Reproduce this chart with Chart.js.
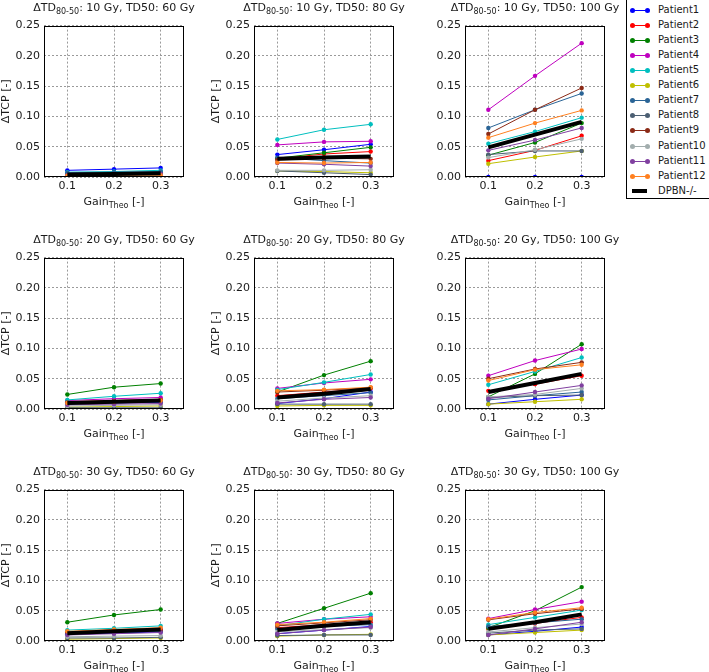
<!DOCTYPE html>
<html><head><meta charset="utf-8">
<script src="https://cdn.jsdelivr.net/npm/chart.js@4/dist/chart.umd.min.js"></script>
<style>
body{margin:0;background:#fff;width:709px;height:672px;position:relative;overflow:hidden;font-family:"DejaVu Sans",sans-serif;color:#1a1a1a}
canvas{position:absolute}
.t{position:absolute;font-size:11px;white-space:nowrap;transform:translate(-50%,-50%);line-height:13px}
.t sub{font-size:8px;vertical-align:-3px;line-height:0}
#leg{position:absolute;left:626px;top:-1px;width:90px;height:200px;border:1px solid #000;box-sizing:border-box;background:#fff}
.li{position:absolute;left:0;height:14px;width:86px}
.ln{position:absolute;left:5px;width:15px;top:7px;height:1px}
.dt{position:absolute;width:5px;height:5px;border-radius:50%;top:-2px}
.lt{position:absolute;left:31px;top:0;font-size:10px;line-height:14px;white-space:nowrap}
</style></head>
<body>
<div id="leg"></div>
<script>
// ---- data ----
const gains = [0.1, 0.2, 0.3];
const yTicks = [0, 0.05, 0.10, 0.15, 0.20, 0.25];
const names = ['Patient1','Patient2','Patient3','Patient4','Patient5','Patient6','Patient7','Patient8','Patient9','Patient10','Patient11','Patient12','DPBN-/-'];
const deltaTD = [10, 20, 30];
const td50 = [60, 80, 100];

// each row: one series (Patient1..Patient12, DPBN-/-), values at gains 0.1, 0.2, 0.3
const td10_60 = [[.011,.013,.015],[.003,.004,.005],[.005,.007,.008],[.004,.005,.006],[.008,.009,.011],[.001,.002,.002],[.007,.008,.009],[.001,.001,.002],[.002,.003,.004],[.002,.002,.003],[.003,.004,.005],[.002,.003,.003],[.004,.005,.006]];
const td10_80 = [[.037,.045,.054],[.030,.038,.042],[.031,.040,.049],[.053,.058,.059],[.062,.078,.087],[.010,.009,.007],[.032,.027,.023],[.010,.007,.004],[.028,.031,.030],[.011,.011,.012],[.023,.021,.018],[.024,.023,.024],[.030,.032,.034]];
const td10_100 = [[0,0,0],[.027,.044,.068],[.036,.057,.089],[.111,.167,.221],[.055,.075,.098],[.022,.033,.043],[.081,.111,.138],[.037,.043,.043],[.071,.111,.147],[.032,.045,.063],[.044,.061,.081],[.065,.089,.110],[.049,.070,.091]];
const td20_60 = [[.008,.010,.011],[.012,.014,.016],[.024,.036,.042],[.014,.017,.019],[.015,.021,.026],[.003,.004,.005],[.009,.010,.012],[.002,.002,.002],[.011,.013,.015],[.005,.006,.007],[.007,.008,.009],[.010,.012,.014],[.010,.012,.014]];
const td20_80 = [[.009,.017,.028],[.022,.028,.034],[.028,.056,.079],[.034,.043,.049],[.032,.044,.057],[.005,.006,.006],[.017,.022,.027],[.008,.008,.008],[.028,.031,.035],[.013,.018,.022],[.010,.016,.019],[.030,.032,.036],[.019,.025,.033]];
const td20_100 = [[.008,.016,.023],[.030,.041,.055],[.020,.058,.107],[.055,.080,.099],[.040,.062,.085],[.008,.012,.016],[.015,.022,.028],[.019,.022,.023],[.050,.066,.077],[.020,.024,.034],[.017,.028,.039],[.047,.065,.073],[.028,.043,.058]];
const td30_60 = [[.011,.013,.015],[.014,.017,.019],[.031,.043,.052],[.015,.018,.020],[.018,.021,.025],[.003,.004,.005],[.012,.014,.016],[.005,.005,.006],[.014,.016,.018],[.007,.008,.009],[.010,.012,.014],[.016,.019,.022],[.013,.016,.019]];
const td30_80 = [[.012,.018,.024],[.022,.027,.031],[.029,.054,.079],[.029,.036,.040],[.025,.036,.044],[.008,.010,.011],[.020,.024,.027],[.009,.010,.010],[.025,.030,.035],[.015,.019,.022],[.012,.018,.023],[.027,.031,.037],[.018,.025,.031]];
const td30_100 = [[.010,.016,.023],[.020,.029,.039],[.022,.050,.089],[.037,.052,.065],[.027,.039,.051],[.010,.014,.018],[.024,.030,.036],[.013,.018,.020],[.035,.045,.053],[.015,.022,.028],[.010,.020,.031],[.036,.047,.055],[.020,.031,.044]];

const panels = [[td10_60, td10_80, td10_100],[td20_60, td20_80, td20_100],[td30_60, td30_80, td30_100]];

// ---- styles ----
const colors = ['#0000ff','#ff0000','#008000','#bf00bf','#00bfbf','#bfbf00','#2a6496','#4c5f73','#8b2a16','#a2adad','#8040a0','#ff8020','#000000'];
const FONT = 'DejaVu Sans';
const plotLefts = [44, 254, 465];
const plotTops = [23, 255, 487];
const PW = 140, PH = 154, YW = 44, PADT = 8, PADR = 8, XH = 18;

const boxPlugin = {
  id: 'box',
  afterDatasetsDraw(chart) {
    const ctx = chart.ctx, a = chart.chartArea;
    ctx.save();
    ctx.strokeStyle = '#000'; ctx.lineWidth = 1;
    ctx.strokeRect(Math.round(a.left) + 0.5, Math.round(a.top) + 0.5, Math.round(a.right - a.left) - 1, Math.round(a.bottom - a.top) - 1);
    ctx.restore();
  }
};

function addText(html, x, y, extra) {
  const d = document.createElement('div');
  d.className = 't';
  d.innerHTML = html;
  d.style.left = x + 'px'; d.style.top = y + 'px';
  if (extra) Object.assign(d.style, extra);
  document.body.appendChild(d);
}

for (let r = 0; r < 3; r++) {
  for (let c = 0; c < 3; c++) {
    const cv = document.createElement('canvas');
    const W = YW + PW + PADR, H = PADT + PH + XH;
    cv.width = W; cv.height = H;
    cv.style.left = (plotLefts[c] - YW) + 'px';
    cv.style.top = (plotTops[r] - PADT) + 'px';
    cv.style.width = W + 'px'; cv.style.height = H + 'px';
    document.body.appendChild(cv);
    const vals = panels[r][c];
    const datasets = names.map((n, i) => ({
      label: n,
      data: gains.map((g, j) => ({ x: g, y: vals[i][j] })),
      borderColor: colors[i],
      backgroundColor: colors[i],
      borderWidth: i === 12 ? 4 : 1,
      pointRadius: i === 12 ? 0 : 2.2,
      pointBorderWidth: 0,
      pointHoverRadius: 0,
      tension: 0,
      order: -i
    }));
    new Chart(cv, {
      type: 'line',
      data: { datasets },
      plugins: [boxPlugin],
      options: {
        animation: false, responsive: false, devicePixelRatio: 1,
        layout: { padding: { top: PADT, right: PADR, left: 0, bottom: 0 } },
        plugins: { legend: { display: false }, tooltip: { enabled: false } },
        scales: {
          x: {
            type: 'linear', min: 0.05, max: 0.35,
            afterBuildTicks: s => { s.ticks = gains.map(v => ({ value: v })); },
            afterFit: s => { s.height = XH; },
            ticks: { callback: v => Number(v).toFixed(1), font: { family: FONT, size: 11 }, color: '#1a1a1a', padding: 3, maxRotation: 0, autoSkip: false },
            grid: { color: '#9a9a9a', lineWidth: 1, drawTicks: false },
            border: { display: false, dash: [2, 2] }
          },
          y: {
            min: 0, max: 0.25,
            afterBuildTicks: s => { s.ticks = yTicks.map(v => ({ value: v })); },
            afterFit: s => { s.width = YW; },
            ticks: { callback: v => Number(v).toFixed(2), font: { family: FONT, size: 11 }, color: '#1a1a1a', padding: 4, autoSkip: false },
            title: { display: c < 2, text: 'ΔTCP [-]', font: { family: FONT, size: 11 }, color: '#1a1a1a', padding: 0 },
            grid: { color: '#9a9a9a', lineWidth: 1, drawTicks: false },
            border: { display: false, dash: [2, 2] }
          }
        }
      }
    });
    const cx = plotLefts[c] + PW / 2;
    addText('ΔTD<sub>80-50</sub>: ' + deltaTD[r] + ' Gy, TD50: ' + td50[c] + ' Gy', cx, plotTops[r] - 16);
    addText('Gain<sub>Theo</sub> [-]', cx, plotTops[r] + PH + 24);
  }
}

// legend
const leg = document.getElementById('leg');
names.forEach((n, i) => {
  const it = document.createElement('div');
  it.className = 'li';
  it.style.top = (3 + 15.06 * i) + 'px';
  const ln = document.createElement('div');
  ln.className = 'ln';
  ln.style.background = colors[i];
  if (i === 12) { ln.style.height = '4px'; ln.style.top = '5.5px'; }
  else {
    [0, 15].forEach(x => {
      const d = document.createElement('div');
      d.className = 'dt'; d.style.background = colors[i]; d.style.left = (x - 2.5) + 'px';
      ln.appendChild(d);
    });
  }
  const tx = document.createElement('div');
  tx.className = 'lt'; tx.textContent = n;
  it.appendChild(ln); it.appendChild(tx);
  leg.appendChild(it);
});
</script>
</body></html>
